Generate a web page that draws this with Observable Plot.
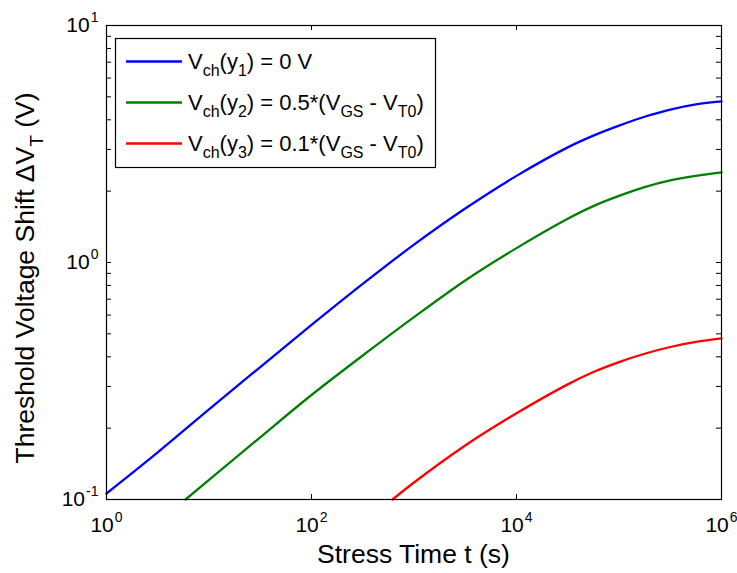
<!DOCTYPE html>
<html>
<head>
<meta charset="utf-8">
<script src="https://cdn.jsdelivr.net/npm/d3@7"></script>
<script src="https://cdn.jsdelivr.net/npm/@observablehq/plot@0.6"></script>
<style>
  html, body { margin: 0; padding: 0; background: #fff; }
  #chart { width: 737px; height: 573px; }
</style>
</head>
<body>
<div id="chart"></div>
<script>
// ---- data ----
const tBlue  = [1, 3.16, 10, 31.6, 100, 316, 1000, 3162, 10000, 31623, 56234, 100000, 177828, 316228, 562341, 1000000];
const vBlue  = [0.106, 0.158, 0.240, 0.362, 0.545, 0.812, 1.19, 1.69, 2.32, 3.06, 3.43, 3.78, 4.12, 4.42, 4.65, 4.78];
const tGreen = [5.9, 10, 31.6, 100, 316, 1000, 3162, 10000, 31623, 56234, 100000, 177828, 316228, 562341, 1000000];
const vGreen = [0.1, 0.121, 0.183, 0.276, 0.405, 0.588, 0.840, 1.15, 1.53, 1.73, 1.91, 2.08, 2.22, 2.32, 2.40];
const tRed   = [617, 1000, 3162, 10000, 31623, 56234, 100000, 177828, 316228, 562341, 1000000];
const vRed   = [0.1, 0.118, 0.169, 0.231, 0.306, 0.345, 0.380, 0.412, 0.440, 0.462, 0.478];

const seriesNames = ["y1", "y2", "y3"];
const seriesColors = ["#0000ff", "#008000", "#ff0000"];
const xTicks = [1, 100, 10000, 1000000];
const yTicks = [0.1, 1, 10];
const yMinor = [0.2,0.3,0.4,0.5,0.6,0.7,0.8,0.9,2,3,4,5,6,7,8,9];
const xTitle = "Stress Time t (s)";
const legendLabels = [
  [["V"],["ch","sub"],["(y"],["1","sub"],[") = 0 V"]],
  [["V"],["ch","sub"],["(y"],["2","sub"],[") = 0.5*(V"],["GS","sub"],[" - V"],["T0","sub"],[")"]],
  [["V"],["ch","sub"],["(y"],["3","sub"],[") = 0.1*(V"],["GS","sub"],[" - V"],["T0","sub"],[")"]]
];

const rows = [];
tBlue.forEach((t,i)=>rows.push({t, v:vBlue[i], s:seriesNames[0]}));
tGreen.forEach((t,i)=>rows.push({t, v:vGreen[i], s:seriesNames[1]}));
tRed.forEach((t,i)=>rows.push({t, v:vRed[i], s:seriesNames[2]}));

const W = 737, H = 573, ML = 106, MR = 16, MT = 25, MB = 74;
const PW = W - ML - MR, PH = H - MT - MB;
const FONT = "'Liberation Sans', Arial, Helvetica, sans-serif";
const expFmt = d => "10^" + Math.round(Math.log10(d));

const plot = Plot.plot({
  width: W, height: H,
  marginLeft: ML, marginRight: MR, marginTop: MT, marginBottom: MB,
  style: {fontFamily: FONT, background: "#fff", color: "#000"},
  x: {type: "log", domain: [1, 1e6]},
  y: {type: "log", domain: [0.1, 10]},
  color: {domain: seriesNames, range: seriesColors},
  marks: [
    Plot.line(rows, {x: "t", y: "v", z: "s", stroke: "s", strokeWidth: 2.3, curve: "catmull-rom"}),
    // inward ticks, bottom & top
    Plot.tickX(xTicks, {x: d => d, insetTop: PH - 5, stroke: "#000", strokeWidth: 1}),
    Plot.tickX(xTicks, {x: d => d, insetBottom: PH - 5, stroke: "#000", strokeWidth: 1}),
    // inward ticks, left & right (major + minor)
    Plot.tickY(yTicks.concat(yMinor), {y: d => d, insetRight: PW - 5, stroke: "#000", strokeWidth: 1}),
    Plot.tickY(yTicks.concat(yMinor), {y: d => d, insetLeft: PW - 5, stroke: "#000", strokeWidth: 1}),
    Plot.frame({stroke: "#000", strokeWidth: 1.2}),
    Plot.axisX({ticks: xTicks, tickFormat: expFmt, tickSize: 0, tickPadding: 18, label: null, fontSize: 21}),
    Plot.axisY({ticks: yTicks, tickFormat: expFmt, tickSize: 0, tickPadding: 8, label: null, fontSize: 21})
  ]
});

document.getElementById("chart").appendChild(plot);

// turn "10^k" tick labels into base + superscript
const svg = d3.select(plot);
svg.selectAll('g[aria-label="x-axis tick label"] text, g[aria-label="y-axis tick label"] text').each(function() {
  const el = d3.select(this);
  const parts = el.text().split("^");
  if (parts.length !== 2) return;
  el.text(null);
  el.append("tspan").text(parts[0]);
  el.append("tspan").attr("font-size", "14px").attr("dy", "-0.75em").attr("dx", "1").text(parts[1]);
});

function richText(sel, segs, baseSize, subSize) {
  let inSub = false;
  segs.forEach(([t, kind]) => {
    const ts = sel.append("tspan").text(t);
    if (kind === "sub") {
      ts.attr("font-size", subSize + "px").attr("dy", inSub ? 0 : 0.33 * baseSize);
      inSub = true;
    } else {
      ts.attr("dy", inSub ? -0.33 * baseSize : 0);
      inSub = false;
    }
  });
}

// axis titles
svg.append("text")
  .attr("x", ML + PW / 2).attr("y", 563)
  .attr("text-anchor", "middle").attr("font-size", 26.5).attr("font-family", FONT).attr("fill", "#000")
  .text(xTitle);

const yt = svg.append("text")
  .attr("transform", `translate(34,${MT + PH / 2 + 16}) rotate(-90)`)
  .attr("text-anchor", "middle").attr("font-size", 26.5).attr("font-family", FONT).attr("fill", "#000");
richText(yt, [["Threshold Voltage Shift \u0394V"], ["T", "sub"], [" (V)"]], 26.5, 19);

// legend
const lg = svg.append("g").attr("font-family", FONT).attr("text-anchor", "start");
lg.append("rect").attr("x", 115.5).attr("y", 38.5).attr("width", 320).attr("height", 129)
  .attr("fill", "#fff").attr("stroke", "#000").attr("stroke-width", 1.2);
const rowY = [61.5, 102.5, 143.5];
legendLabels.forEach((segs, i) => {
  lg.append("line").attr("x1", 126).attr("x2", 182).attr("y1", rowY[i]).attr("y2", rowY[i])
    .attr("stroke", seriesColors[i]).attr("stroke-width", 2.3);
  const tx = lg.append("text").attr("x", 188).attr("y", rowY[i] + 7).attr("font-size", 22)
    .attr("fill", "#000").attr("text-anchor", "start");
  richText(tx, segs, 22, 16);
});
</script>
</body>
</html>
